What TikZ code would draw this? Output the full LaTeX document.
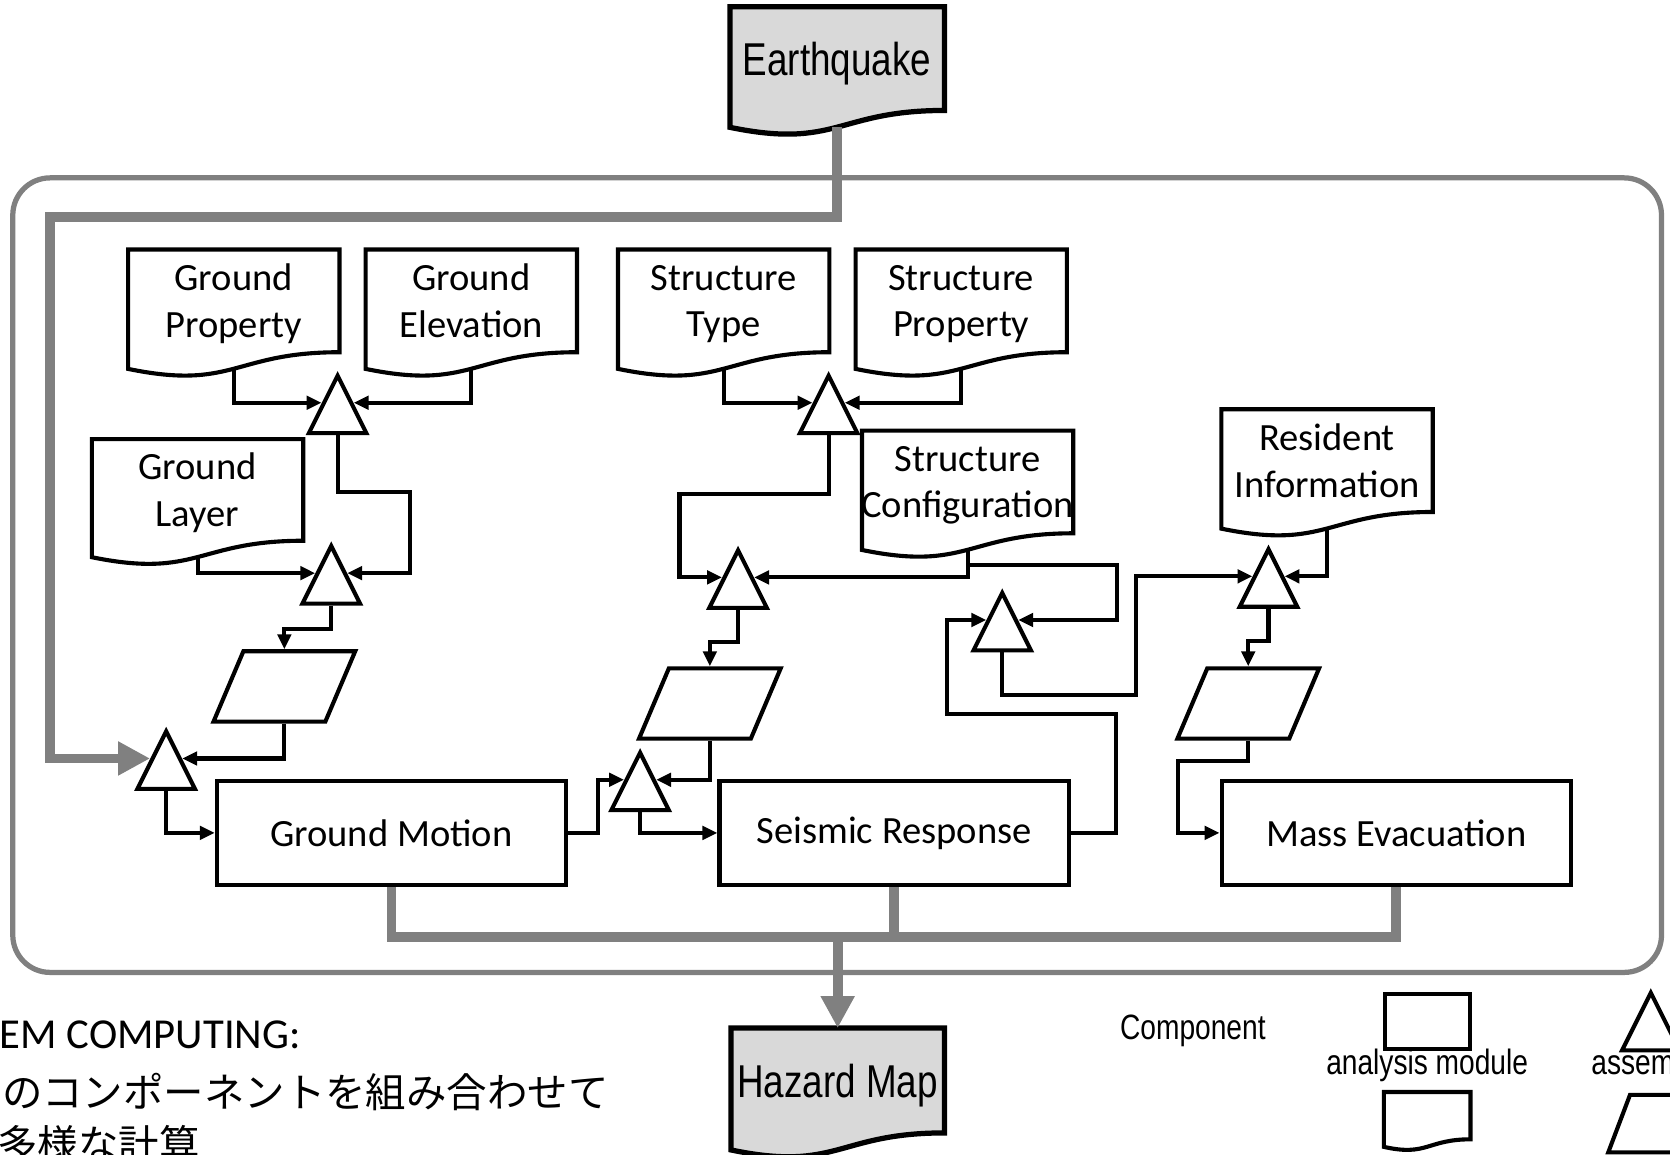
\documentclass[tikz,border=0pt]{standalone}
\usepackage{fontspec}
\setmainfont{Carlito}
\newfontfamily\narrowfont[FakeStretch=0.8]{Liberation Sans}
\newfontfamily\jpfont{Noto Sans CJK JP}
\usepackage{tikz}
\usetikzlibrary{shapes, arrows.meta, positioning, calc, shapes.geometric, backgrounds}

% document symbol: straight top, wavy bottom (#2 node, #3 fill, #4 full height)
\newcommand{\docframe}[4][docline]{%
  \begin{scope}[on background layer]
    \filldraw[#1, fill=#3] (#2.north west) -- (#2.north east) -- (#2.south east)
      .. controls (#2.south) and ($(#2.south)+(0,-0.305*#4)$) .. ($(#2.south west)+(0,-0.132*#4)$) -- cycle;
  \end{scope}
  \coordinate (#2-out) at ($(#2.south)+(0,-0.131*#4)$);
}

\begin{document}
\begin{tikzpicture}[
    doc/.style={rectangle, minimum width=1.97cm, minimum height=0.95cm, inner sep=0pt, text depth=0pt, align=center, font=\fontsize{10.3}{12.5}\selectfont},
    module/.style={rectangle, draw=black, line width=1.1pt, minimum width=3.28cm, minimum height=0.98cm, inner sep=0pt, font=\fontsize{10.3}{12.5}\selectfont},
    asm/.style={isosceles triangle, isosceles triangle stretches, shape border rotate=90, draw=black, fill=white, line width=1.1pt, minimum width=0.54cm, minimum height=0.54cm, inner sep=0pt},
    store/.style={trapezium, trapezium left angle=70, trapezium right angle=110, trapezium stretches, draw=black, line width=1.1pt, minimum width=1.33cm, minimum height=0.66cm, inner sep=1pt},
    docline/.style={draw=black, line width=1.1pt},
    heavyline/.style={draw=black, line width=1.4pt},
    arrow/.style={-{Triangle[length=1.4mm, width=1.25mm]}, line width=1.1pt},
    flowline/.style={draw=gray, line width=2.6pt},
    flow/.style={flowline, -{Triangle[length=3mm, width=3mm]}},
    key/.style={font=\narrowfont\fontsize{9.4}{11}\selectfont, inner sep=0pt}
]
\path[use as bounding box] (0,0) rectangle (15.68,10.84);
\clip (0,0) rectangle (15.68,10.84);

% Earthquake input
\node[doc, minimum width=2cm, minimum height=0.96cm, font=\narrowfont\fontsize{12.3}{14}\selectfont] (quake) at (7.86,10.29) {Earthquake};
\docframe[heavyline]{quake}{black!15}{1.20}

% System frame
\node[draw=gray, line width=1.4pt, rounded corners=0.35cm, minimum width=15.48cm, minimum height=7.46cm, inner sep=0pt] (system) at (7.86,5.44) {};

% Ground data
\node[doc] (gprop) at (2.195,8.015) {Ground\\Property};
\docframe{gprop}{white}{1.185}
\node[doc] (gelev) at (4.425,8.015) {Ground\\Elevation};
\docframe{gelev}{white}{1.185}
\node[doc, minimum height=0.94cm] (glayer) at (1.855,6.24) {Ground\\Layer};
\docframe{glayer}{white}{1.172}

% Structure data
\node[doc] (stype) at (6.795,8.015) {Structure\\Type};
\docframe{stype}{white}{1.185}
\node[doc] (sprop) at (9.025,8.015) {Structure\\Property};
\docframe{sprop}{white}{1.185}
\node[doc] (sconf) at (9.085,6.315) {Structure\\\makebox[1.9cm]{Configuration}};
\docframe{sconf}{white}{1.185}

% Resident data
\node[doc] (resid) at (12.46,6.515) {Resident\\Information};
\docframe{resid}{white}{1.185}

% Assemblers
\node[asm] (gasm1) at (3.17,6.94) {};
\node[asm] (gasm2) at (3.11,5.34) {};
\node[asm] (gmasm) at (1.56,3.60) {};
\node[asm] (sasm1) at (7.78,6.94) {};
\node[asm] (sasm2) at (6.93,5.30) {};
\node[asm] (srasm) at (6.01,3.40) {};
\node[asm] (easm1) at (9.41,4.90) {};
\node[asm] (easm2) at (11.91,5.31) {};

% Assembled inputs
\node[store] (gstore) at (2.67,4.395) {};
\node[store] (sstore) at (6.665,4.235) {};
\node[store] (estore) at (11.72,4.235) {};

% Analysis modules
\node[module] (motion) at (3.675,3.02) {Ground Motion};
\node[module] (response) at (8.395,3.02) {Seismic Response};
\node[module] (evac) at (13.11,3.02) {Mass Evacuation};

% Hazard output
\node[doc, minimum width=1.99cm, minimum height=0.97cm, font=\narrowfont\fontsize{12.3}{14}\selectfont] (hazard) at (7.865,0.695) {Hazard Map};
\docframe[heavyline]{hazard}{black!15}{1.21}

% Ground chain
\draw[arrow] (gprop-out) |- (gasm1.left side);
\draw[arrow] (gelev-out) |- (gasm1.right side);
\draw[arrow] (glayer-out) |- (gasm2.left side);
\draw[arrow] (gasm1.south) |- ++(0.68,-0.53) |- (gasm2.right side);
\draw[arrow] (gasm2.south) -- ++(0,-0.22) -| (gstore.north);
\draw[arrow] (gstore.south) |- (gmasm.right side);
\draw[arrow] (gmasm.south) |- (motion);

% Structure chain
\draw[arrow] (stype-out) |- (sasm1.left side);
\draw[arrow] (sprop-out) |- (sasm1.right side);
\draw[arrow] (sasm1.south) |- ++(-1.40,-0.55) |- (sasm2.left side);
\draw[arrow] (sconf-out) |- (sasm2.right side);
\draw[arrow] (sasm2.south) -- ++(0,-0.30) -| (sstore.north);
\draw[arrow] (sstore.south) |- (srasm.right side);
\draw[arrow] (motion.east) -- ++(0.28,0) |- (srasm.left side);
\draw[arrow] (srasm.south) |- (response);

% Evacuation chain
\draw[arrow] (sconf-out) |- ++(1.40,-0.14) |- (easm1.right side);
\draw[arrow] (response.east) -- ++(0.42,0) |- ++(-1.58,1.12) |- (easm1.left side);
\draw[arrow] (easm1.south) |- ++(1.26,-0.40) |- (easm2.left side);
\draw[arrow] (resid-out) |- (easm2.right side);
\draw[arrow] (easm2.south) -- ++(0,-0.30) -| (estore.north);
\draw[arrow] (estore.south) |- ++(-0.66,-0.19) |- (evac);

% Earthquake feed and hazard output
\draw[flow] (quake-out) -- ++(0,-0.84) -- ++(-7.39,0) |- (gmasm.left side);
\coordinate (bus) at ($(motion.south)+(0,-0.47)$);
\draw[flowline] (motion.south) -- (bus) -| (evac.south);
\draw[flowline] (response.south) -- (response.south |- bus);
\draw[flow] (hazard.north |- bus) -- (hazard.north);

% Legend
\node[key] (keytitle) at (11.20,1.16) {Component};
\node[draw=black, line width=1.1pt, minimum width=0.8cm, minimum height=0.52cm, inner sep=0pt] (keymod) at (13.40,1.25) {};
\node[key] (keymodtext) at (13.40,0.84) {analysis module};
\node[doc, minimum width=0.8cm, minimum height=0.43cm] (keydoc) at (13.40,0.365) {};
\docframe{keydoc}{white}{0.536}
\node[asm] (keyasm) at (15.50,1.145) {};
\node[key] (keyasmtext) at (15.50,0.84) {assembly};
\node[store, minimum width=0.97cm, minimum height=0.54cm] (keystore) at (15.585,0.29) {};

% Note text
\node[anchor=east, inner sep=0pt, font=\fontsize{11.4}{13}\selectfont] (note1) at (2.83,1.12) {EM COMPUTING:};
\node[anchor=east, inner sep=0pt, font=\jpfont\fontsize{10.8}{13}\selectfont] (note2) at (5.72,0.59) {のコンポーネントを組み合わせて};
\node[anchor=east, inner sep=0pt, font=\jpfont\fontsize{10.8}{13}\selectfont] (note3) at (1.88,0.10) {多様な計算};

\end{tikzpicture}
\end{document}
